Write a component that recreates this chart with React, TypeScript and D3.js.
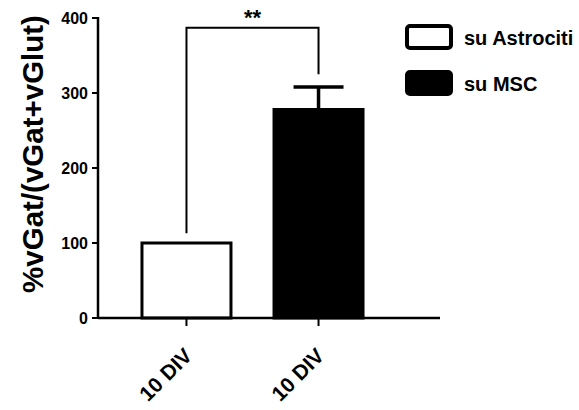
import React from 'react';
import * as d3 from 'd3';

// data
const groups = ['su Astrociti', 'su MSC'];
const xLabels = ['10 DIV', '10 DIV'];
const means = [100, 278];
const errors = [0, 30];
const yTicks = [0, 100, 200, 300, 400];
const sigLabel = '**';
const sigTop = 387;
const sigLegs = [113, 325];

const W = 579;
const H = 410;
const font = '"Liberation Sans", Arial, sans-serif';

export default function App() {
  const margin = { top: 18, left: 98, bottom: 92 };
  const plotBottom = H - margin.bottom;
  const axisRight = 440;

  const y = d3.scaleLinear().domain([0, 400]).range([plotBottom, margin.top]);
  const x = d3
    .scaleBand<string>()
    .domain(groups)
    .range([margin.left, 407])
    .paddingInner(0.326)
    .paddingOuter(0.333);

  const cx = (g: string) => (x(g) as number) + x.bandwidth() / 2;
  const fills = ['#ffffff', '#000000'];

  return (
    <svg
      width={W}
      height={H}
      style={{ position: 'absolute', left: 0, top: 0, background: '#fff' }}
      fontFamily={font}
      fontWeight="bold"
    >
      {/* bars */}
      {groups.map((g, i) => (
        <rect
          key={g}
          x={(x(g) as number)}
          y={y(means[i])}
          width={x.bandwidth()}
          height={y(0) - y(means[i])}
          fill={fills[i]}
          stroke="#000"
          strokeWidth={3}
        />
      ))}

      {/* error bars (upper only) */}
      {groups.map((g, i) =>
        errors[i] > 0 ? (
          <g key={'e' + g} stroke="#000" strokeWidth={3.5}>
            <line x1={cx(g)} x2={cx(g)} y1={y(means[i])} y2={y(means[i] + errors[i])} />
            <line
              x1={cx(g) - 25}
              x2={cx(g) + 25}
              y1={y(means[i] + errors[i])}
              y2={y(means[i] + errors[i])}
            />
          </g>
        ) : null
      )}

      {/* significance bracket */}
      <path
        d={`M${cx(groups[0])},${y(sigLegs[0])}V${y(sigTop)}H${cx(groups[1])}V${y(sigLegs[1])}`}
        fill="none"
        stroke="#000"
        strokeWidth={2}
      />
      <text
        x={(cx(groups[0]) + cx(groups[1])) / 2}
        y={y(sigTop) - 3}
        textAnchor="middle"
        fontSize={22}
      >
        {sigLabel}
      </text>

      {/* y axis */}
      <line x1={margin.left} x2={margin.left} y1={y(400) - 1} y2={y(0)} stroke="#000" strokeWidth={2.5} />
      {yTicks.map((t) => (
        <g key={t}>
          <line x1={margin.left - 6} x2={margin.left} y1={y(t)} y2={y(t)} stroke="#000" strokeWidth={2} />
          <text x={margin.left - 10} y={y(t)} dy="0.36em" textAnchor="end" fontSize={16}>
            {t}
          </text>
        </g>
      ))}

      {/* x axis */}
      <line x1={margin.left} x2={axisRight} y1={y(0)} y2={y(0)} stroke="#000" strokeWidth={2.5} />
      {groups.map((g, i) => (
        <g key={'t' + g}>
          <line x1={cx(g)} x2={cx(g)} y1={y(0)} y2={y(0) + 8} stroke="#000" strokeWidth={2} />
          <text
            transform={`translate(${cx(g) + 7},${y(0) + 39}) rotate(-45)`}
            textAnchor="end"
            fontSize={21}
          >
            {xLabels[i]}
          </text>
        </g>
      ))}

      {/* y axis title */}
      <text
        transform={`translate(43,${(y(0) + y(400)) / 2 - 14}) rotate(-90)`}
        textAnchor="middle"
        fontSize={29.5}
      >
        %vGat/(vGat+vGlut)
      </text>

      {/* legend */}
      {groups.map((g, i) => (
        <g key={'l' + g} transform={`translate(405,${24 + i * 46})`}>
          <rect x={2} y={2} width={44} height={22} rx={3} fill={fills[i]} stroke="#000" strokeWidth={4} />
          <text x={59} y={21} fontSize={20}>
            {g}
          </text>
        </g>
      ))}
    </svg>
  );
}
